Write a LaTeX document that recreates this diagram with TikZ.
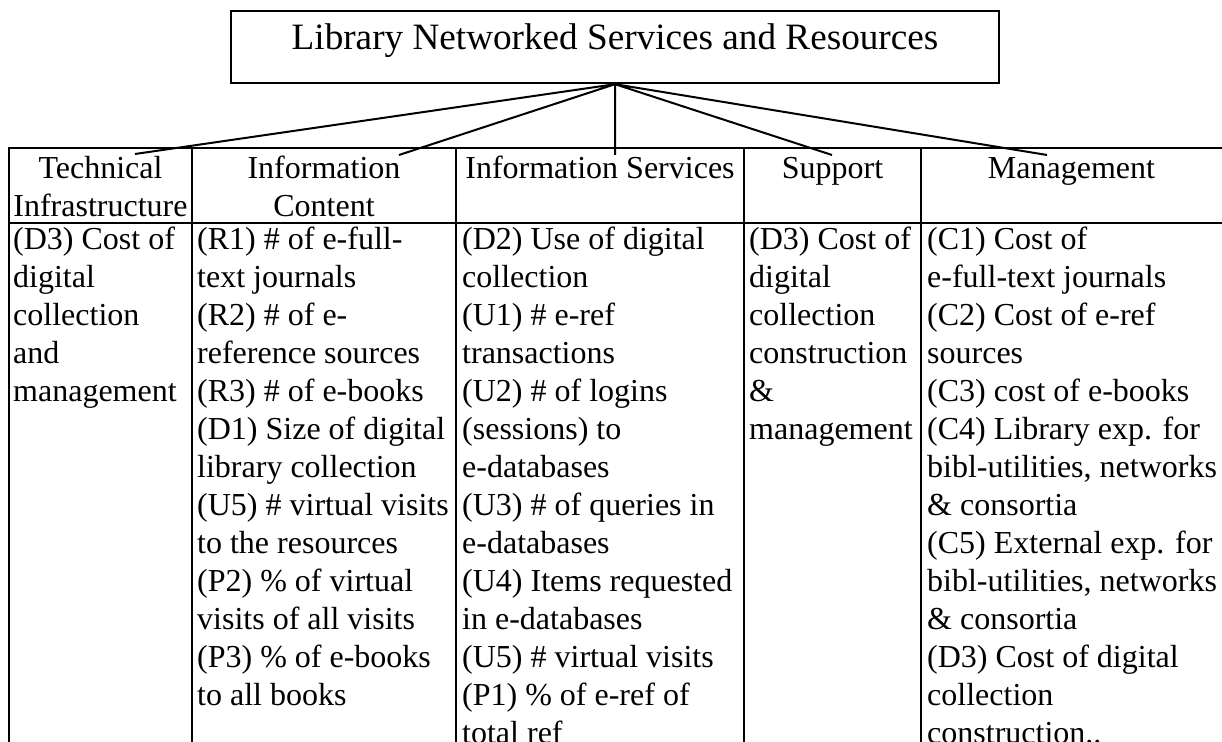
\documentclass[tikz,border=0pt]{standalone}
\usepackage{fontspec}
\setmainfont{Liberation Serif}
\begin{document}
\begin{tikzpicture}[x=0.5pt, y=-0.5pt, line width=1.2pt,
  colhead/.style={anchor=north, align=center, inner sep=0pt, font=\fontsize{16}{19}\selectfont},
  colbody/.style={anchor=north west, align=left, inner sep=0pt, font=\fontsize{16}{19}\selectfont}]
  \useasboundingbox (0,0) rectangle (1222,742);
  \node [draw, minimum width=384pt, minimum height=36pt, inner sep=0pt, text height=12.5pt, text depth=9.5pt, font=\fontsize{18.6}{22}\selectfont] (lnsr) at (615,47) {Library Networked Services and Resources};
  % table grid
  \draw (9,742) -- (9,148) -- (1222,148) (9,223) -- (1222,223);
  \foreach \x in {192,456,744,921} \draw (\x,148) -- (\x,742);
  % column heads
  \node [colhead] (tech) at (100.5,150.4) {\strut Technical\\Infrastructure};
  \node [colhead] (content) at (324,150.4) {\strut Information\\Content};
  \node [colhead] (services) at (600,150.4) {\strut Information Services};
  \node [colhead] (support) at (832.5,150.4) {\strut Support};
  \node [colhead] (mgmt) at (1071.5,150.4) {\strut Management};
  \coordinate (techtip) at (135,154);
  \coordinate (contip) at (399,155);
  \coordinate (servtip) at (615,155);
  \coordinate (supptip) at (832,155);
  \coordinate (mgmttip) at (1047,155);
  \path [draw, line width=1pt] (lnsr.south) -- (techtip) (lnsr.south) -- (contip) (lnsr.south) -- (servtip)
    (lnsr.south) -- (supptip) (lnsr.south) -- (mgmttip);
  % indicators
  \node [colbody] (techlist) at (12,221.4) {\strut(D3) Cost of\\digital\\collection\\and\\management};
  \node [colbody] (conlist) at (196,221.4) {\strut(R1) \# of e-full-\\text journals\\(R2) \# of e-\\reference sources\\(R3) \# of e-books\\(D1) Size of digital\\library collection\\(U5) \# virtual visits\\to the resources\\(P2) \% of virtual\\visits of all visits\\(P3) \% of e-books\\to all books};
  \node [colbody] (servlist) at (461,221.4) {\strut(D2) Use of digital\\collection\\(U1) \# e-ref\\transactions\\(U2) \# of logins\\(sessions) to\\e-databases\\(U3) \# of queries in\\e-databases\\(U4) Items requested\\in e-databases\\(U5) \# virtual visits\\(P1) \% of e-ref of\\total ref};
  \node [colbody] (supplist) at (748,221.4) {\strut(D3) Cost of\\digital\\collection\\construction\\\&\\management};
  \node [colbody] (mgmtlist) at (926,221.4) {\strut(C1) Cost of\\e-full-text journals\\(C2) Cost of e-ref\\sources\\(C3) cost of e-books\\(C4) Library exp. for\\bibl-utilities, networks\\\& consortia\\(C5) External exp. for\\bibl-utilities, networks\\\& consortia\\(D3) Cost of digital\\collection\\construction..};
\end{tikzpicture}
\end{document}
